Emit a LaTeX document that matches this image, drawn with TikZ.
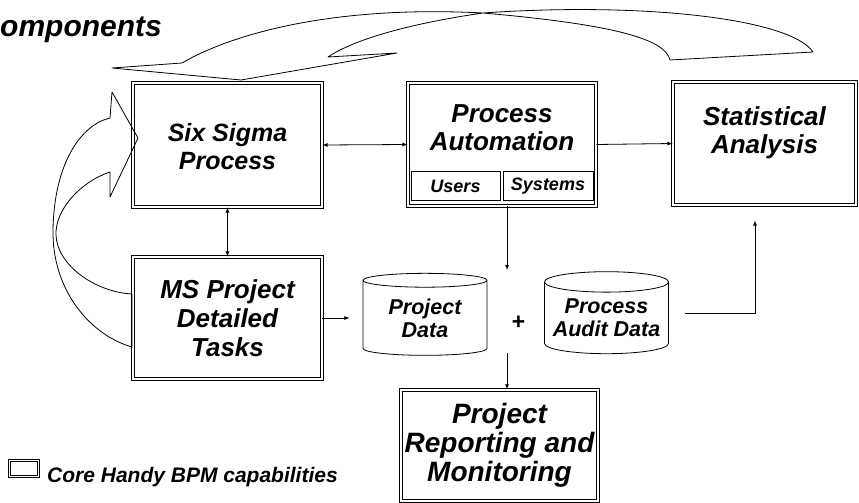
\documentclass[tikz,border=0pt]{standalone}
\usepackage{fontspec}
\setmainfont{Liberation Sans}
\usetikzlibrary{shapes.geometric}

\tikzset{
  core/.style={draw, line width=0.9pt, double, double distance=1.4pt, inner sep=0pt},
  cell/.style={draw, line width=0.6pt, inner sep=0pt, minimum height=29pt},
  store/.style={cylinder, shape border rotate=90, draw, line width=0.8pt, aspect=0.19,
    minimum width=124pt, minimum height=82pt, inner sep=0pt},
  big/.style={line width=0.8pt, line join=round},
  link/.style={line width=0.8pt}
}

\begin{document}
\begin{tikzpicture}[x=1pt, y=-1pt, >=latex]
    \useasboundingbox (0,0) rectangle (859,503);

        % Title (cut at the left edge)
        \node[anchor=base west, inner sep=0pt, font=\fontsize{30}{30}\selectfont\bfseries\itshape]
            (title) at (0,37) {omponents};

        % Core boxes
        \node[core, minimum width=189pt, minimum height=124pt] (six) at (227.5,145) {};
        \node[align=center, font=\fontsize{25}{28}\selectfont\bfseries\itshape] (sixtext) at (227.5,147) {Six Sigma\\Process};

        \node[core, minimum width=188pt, minimum height=123pt] (pa) at (502,144.5) {};
        \node[align=center, font=\fontsize{26}{28}\selectfont\bfseries\itshape] (patext) at (502,128) {Process\\Automation};
        \node[cell, minimum width=89pt, font=\fontsize{18}{18}\selectfont\bfseries\itshape] (users) at (455.5,186) {Users};
        \node[cell, minimum width=90pt, font=\fontsize{18}{18}\selectfont\bfseries\itshape] (systems) at (548,186) {Systems};

        \node[core, minimum width=183pt, minimum height=123pt] (stat) at (764.5,143.5) {};
        \node[align=center, font=\fontsize{26}{28}\selectfont\bfseries\itshape] (stattext) at (764.5,133) {Statistical\\Analysis};

        \node[core, minimum width=189pt, minimum height=122pt, align=center,
            font=\fontsize{26}{29}\selectfont\bfseries\itshape] (ms) at (227.5,318) {MS Project\\Detailed\\Tasks};

        \node[core, minimum width=197pt, minimum height=111pt, align=center,
            font=\fontsize{28}{29}\selectfont\bfseries\itshape] (rep) at (499.5,445.5) {Project\\Reporting and\\Monitoring};

        % Data stores
        \node[store, align=center, font=\fontsize{21.5}{23}\selectfont\bfseries\itshape] (pdata) at (425,318) {Project\\Data};
        \node[store, align=center, font=\fontsize{21.5}{23}\selectfont\bfseries\itshape] (audit) at (606.5,318) {Process\\Audit Data};
        \node[font=\fontsize{23}{23}\selectfont\bfseries\itshape] (plus) at (518,323) {+};

        % Connectors
        \coordinate (join) at (507,270);
        \coordinate (split) at (507,353);
        \draw[link, <->] (six.east) -- (pa.west);
        \draw[link, ->] (pa.east) -- (stat.west);
        \draw[link, <->] (six.south) -- (ms.north);
        \draw[link, ->] (pa.south -| join) -- (join);
        \draw[link, ->] (split) -- (split |- rep.north);
        \draw[link, ->, shorten >=13pt] (ms.east) -- (ms.east -| pdata.west);
        \draw[link, ->, shorten <=16pt, shorten >=15pt] ([yshift=5pt]audit.east) -| ([xshift=-9.5pt]stat.south);

        % Big arrow over the top
        \draw[big] (241,80) -- (397,53) -- (328,57)
            .. controls (350,42) and (400,25) .. (483,13)
            .. controls (640,2) and (790,18) .. (813,52)
            -- (670,60)
            .. controls (665,40) and (620,25) .. (483,13)
            .. controls (330,5) and (230,35) .. (182,63)
            -- (112,68) -- cycle;

        % Big arrow on the left
        \draw[big] (138,138) -- (110,197) -- (110,172)
            .. controls (80,182) and (55,210) .. (56,235)
            .. controls (57,265) and (95,292) .. (132,294)
            -- (132,347)
            .. controls (90,335) and (52,290) .. (53,230)
            .. controls (54,165) and (80,125) .. (110,118)
            -- (112,92) -- cycle;

        % Legend
        \node[core, minimum width=29pt, minimum height=16pt] (key) at (24,468.5) {};
        \node[anchor=base west, inner sep=0pt, font=\fontsize{21}{21}\selectfont\bfseries\itshape]
            (keytext) at (47,482) {Core Handy BPM capabilities};

\end{tikzpicture}
\end{document}
